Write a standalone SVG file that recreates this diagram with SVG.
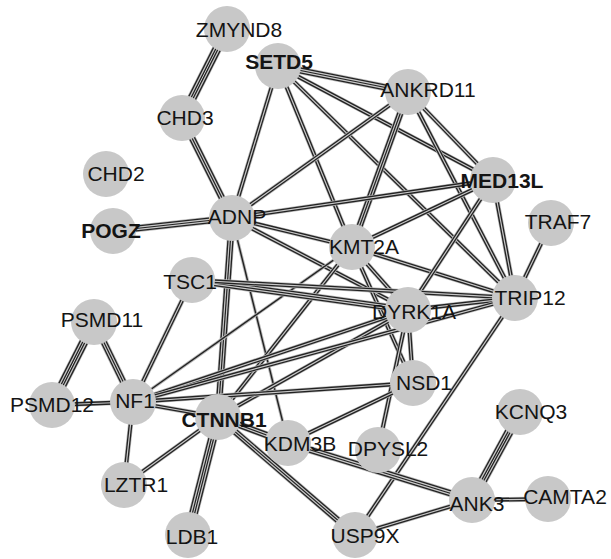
<svg xmlns="http://www.w3.org/2000/svg" xmlns:xlink="http://www.w3.org/1999/xlink" width="611" height="559" viewBox="0 0 611 559">
<style>
.bg{fill:#ffffff}
#edges use{fill:none;stroke-linecap:butt}
.s1 use:nth-child(1){stroke:#b8b8b8;stroke-width:3.2}
.s1 use:nth-child(2){stroke:#222;stroke-width:1.4}
.s2 use:nth-child(1){stroke:#b8b8b8;stroke-width:5.2}
.s2 use:nth-child(2){stroke:#222;stroke-width:3.8}
.s2 use:nth-child(3){stroke:#c8c8c8;stroke-width:1.2}
.s3 use:nth-child(1){stroke:#b8b8b8;stroke-width:7.6}
.s3 use:nth-child(2){stroke:#222;stroke-width:6.2}
.s3 use:nth-child(3){stroke:#c8c8c8;stroke-width:3.6}
.s3 use:nth-child(4){stroke:#222;stroke-width:1.2}
.s4 use:nth-child(1){stroke:#b8b8b8;stroke-width:10}
.s4 use:nth-child(2){stroke:#222;stroke-width:8.6}
.s4 use:nth-child(3){stroke:#c8c8c8;stroke-width:6}
.s4 use:nth-child(4){stroke:#222;stroke-width:3.4}
.s4 use:nth-child(5){stroke:#c8c8c8;stroke-width:1}
.node circle{fill:#c8c8c8}
.node text{font-family:"Liberation Sans",Arial,sans-serif;font-size:21px;fill:#141414;text-anchor:middle}
.node text.b{font-weight:bold}
</style>
<defs>
<line id="e1" x1="227" y1="29" x2="182" y2="118"/>
<line id="e2" x1="182" y1="118" x2="232" y2="218"/>
<line id="e3" x1="278" y1="66" x2="232" y2="218"/>
<line id="e4" x1="278" y1="66" x2="408" y2="92"/>
<line id="e5" x1="278" y1="66" x2="352" y2="247"/>
<line id="e6" x1="278" y1="66" x2="493" y2="180"/>
<line id="e7" x1="278" y1="66" x2="515" y2="298"/>
<line id="e8" x1="408" y1="92" x2="232" y2="218"/>
<line id="e9" x1="408" y1="92" x2="352" y2="247"/>
<line id="e10" x1="408" y1="92" x2="493" y2="180"/>
<line id="e11" x1="408" y1="92" x2="515" y2="298"/>
<line id="e12" x1="232" y1="218" x2="113" y2="231"/>
<line id="e13" x1="232" y1="218" x2="493" y2="180"/>
<line id="e14" x1="232" y1="218" x2="352" y2="247"/>
<line id="e15" x1="232" y1="218" x2="408" y2="310"/>
<line id="e16" x1="232" y1="218" x2="218" y2="417"/>
<line id="e17" x1="232" y1="218" x2="288" y2="443"/>
<line id="e18" x1="352" y1="247" x2="493" y2="180"/>
<line id="e19" x1="352" y1="247" x2="515" y2="298"/>
<line id="e20" x1="352" y1="247" x2="408" y2="310"/>
<line id="e21" x1="352" y1="247" x2="413" y2="383"/>
<line id="e22" x1="352" y1="247" x2="133" y2="402"/>
<line id="e23" x1="352" y1="247" x2="218" y2="417"/>
<line id="e24" x1="493" y1="180" x2="408" y2="310"/>
<line id="e25" x1="493" y1="180" x2="515" y2="298"/>
<line id="e26" x1="551" y1="223" x2="515" y2="298"/>
<line id="e27" x1="192" y1="280" x2="408" y2="310"/>
<line id="e28" x1="192" y1="280" x2="515" y2="298"/>
<line id="e29" x1="192" y1="280" x2="133" y2="402"/>
<line id="e30" x1="408" y1="310" x2="515" y2="298"/>
<line id="e31" x1="408" y1="310" x2="413" y2="383"/>
<line id="e32" x1="408" y1="310" x2="133" y2="402"/>
<line id="e33" x1="408" y1="310" x2="218" y2="417"/>
<line id="e34" x1="408" y1="310" x2="378" y2="450"/>
<line id="e35" x1="515" y1="298" x2="355" y2="535"/>
<line id="e36" x1="515" y1="298" x2="133" y2="402"/>
<line id="e37" x1="413" y1="383" x2="133" y2="402"/>
<line id="e38" x1="413" y1="383" x2="288" y2="443"/>
<line id="e39" x1="94" y1="322" x2="52" y2="405"/>
<line id="e40" x1="94" y1="322" x2="133" y2="402"/>
<line id="e41" x1="52" y1="405" x2="133" y2="402"/>
<line id="e42" x1="133" y1="402" x2="218" y2="417"/>
<line id="e43" x1="133" y1="402" x2="124" y2="485"/>
<line id="e44" x1="124" y1="485" x2="218" y2="417"/>
<line id="e45" x1="218" y1="417" x2="188" y2="535"/>
<line id="e46" x1="218" y1="417" x2="288" y2="443"/>
<line id="e47" x1="218" y1="417" x2="355" y2="535"/>
<line id="e48" x1="288" y1="443" x2="472" y2="500"/>
<line id="e49" x1="472" y1="500" x2="355" y2="535"/>
<line id="e50" x1="472" y1="500" x2="520" y2="412"/>
<line id="e51" x1="472" y1="500" x2="548" y2="499"/>
</defs>
<rect class="bg" x="0" y="0" width="611" height="559"/>
<g id="edges">
<g class="s4"><use href="#e1"/><use href="#e1"/><use href="#e1"/><use href="#e1"/><use href="#e1"/></g>
<g class="s3"><use href="#e2"/><use href="#e2"/><use href="#e2"/><use href="#e2"/></g>
<g class="s2"><use href="#e3"/><use href="#e3"/><use href="#e3"/></g>
<g class="s3"><use href="#e4"/><use href="#e4"/><use href="#e4"/><use href="#e4"/></g>
<g class="s2"><use href="#e5"/><use href="#e5"/><use href="#e5"/></g>
<g class="s2"><use href="#e6"/><use href="#e6"/><use href="#e6"/></g>
<g class="s2"><use href="#e7"/><use href="#e7"/><use href="#e7"/></g>
<g class="s2"><use href="#e8"/><use href="#e8"/><use href="#e8"/></g>
<g class="s3"><use href="#e9"/><use href="#e9"/><use href="#e9"/><use href="#e9"/></g>
<g class="s2"><use href="#e10"/><use href="#e10"/><use href="#e10"/></g>
<g class="s2"><use href="#e11"/><use href="#e11"/><use href="#e11"/></g>
<g class="s3"><use href="#e12"/><use href="#e12"/><use href="#e12"/><use href="#e12"/></g>
<g class="s2"><use href="#e13"/><use href="#e13"/><use href="#e13"/></g>
<g class="s2"><use href="#e14"/><use href="#e14"/><use href="#e14"/></g>
<g class="s2"><use href="#e15"/><use href="#e15"/><use href="#e15"/></g>
<g class="s3"><use href="#e16"/><use href="#e16"/><use href="#e16"/><use href="#e16"/></g>
<g class="s1"><use href="#e17"/><use href="#e17"/></g>
<g class="s2"><use href="#e18"/><use href="#e18"/><use href="#e18"/></g>
<g class="s2"><use href="#e19"/><use href="#e19"/><use href="#e19"/></g>
<g class="s2"><use href="#e20"/><use href="#e20"/><use href="#e20"/></g>
<g class="s2"><use href="#e21"/><use href="#e21"/><use href="#e21"/></g>
<g class="s1"><use href="#e22"/><use href="#e22"/></g>
<g class="s2"><use href="#e23"/><use href="#e23"/><use href="#e23"/></g>
<g class="s2"><use href="#e24"/><use href="#e24"/><use href="#e24"/></g>
<g class="s2"><use href="#e25"/><use href="#e25"/><use href="#e25"/></g>
<g class="s2"><use href="#e26"/><use href="#e26"/><use href="#e26"/></g>
<g class="s3"><use href="#e27"/><use href="#e27"/><use href="#e27"/><use href="#e27"/></g>
<g class="s2"><use href="#e28"/><use href="#e28"/><use href="#e28"/></g>
<g class="s2"><use href="#e29"/><use href="#e29"/><use href="#e29"/></g>
<g class="s2"><use href="#e30"/><use href="#e30"/><use href="#e30"/></g>
<g class="s2"><use href="#e31"/><use href="#e31"/><use href="#e31"/></g>
<g class="s2"><use href="#e32"/><use href="#e32"/><use href="#e32"/></g>
<g class="s2"><use href="#e33"/><use href="#e33"/><use href="#e33"/></g>
<g class="s2"><use href="#e34"/><use href="#e34"/><use href="#e34"/></g>
<g class="s2"><use href="#e35"/><use href="#e35"/><use href="#e35"/></g>
<g class="s2"><use href="#e36"/><use href="#e36"/><use href="#e36"/></g>
<g class="s2"><use href="#e37"/><use href="#e37"/><use href="#e37"/></g>
<g class="s2"><use href="#e38"/><use href="#e38"/><use href="#e38"/></g>
<g class="s4"><use href="#e39"/><use href="#e39"/><use href="#e39"/><use href="#e39"/><use href="#e39"/></g>
<g class="s3"><use href="#e40"/><use href="#e40"/><use href="#e40"/><use href="#e40"/></g>
<g class="s2"><use href="#e41"/><use href="#e41"/><use href="#e41"/></g>
<g class="s2"><use href="#e42"/><use href="#e42"/><use href="#e42"/></g>
<g class="s2"><use href="#e43"/><use href="#e43"/><use href="#e43"/></g>
<g class="s2"><use href="#e44"/><use href="#e44"/><use href="#e44"/></g>
<g class="s4"><use href="#e45"/><use href="#e45"/><use href="#e45"/><use href="#e45"/><use href="#e45"/></g>
<g class="s3"><use href="#e46"/><use href="#e46"/><use href="#e46"/><use href="#e46"/></g>
<g class="s3"><use href="#e47"/><use href="#e47"/><use href="#e47"/><use href="#e47"/></g>
<g class="s3"><use href="#e48"/><use href="#e48"/><use href="#e48"/><use href="#e48"/></g>
<g class="s2"><use href="#e49"/><use href="#e49"/><use href="#e49"/></g>
<g class="s4"><use href="#e50"/><use href="#e50"/><use href="#e50"/><use href="#e50"/><use href="#e50"/></g>
<g class="s2"><use href="#e51"/><use href="#e51"/><use href="#e51"/></g>
</g>
<g id="n-ZMYND8" class="node"><circle cx="227" cy="29" r="23"/><text x="239" y="37">ZMYND8</text></g>
<g id="n-SETD5" class="node"><circle cx="278" cy="66" r="23"/><text class="b" x="279" y="69">SETD5</text></g>
<g id="n-CHD3" class="node"><circle cx="182" cy="118" r="23"/><text x="185" y="125">CHD3</text></g>
<g id="n-ANKRD11" class="node"><circle cx="408" cy="92" r="23"/><text x="428" y="97">ANKRD11</text></g>
<g id="n-CHD2" class="node"><circle cx="106" cy="174" r="23"/><text x="116" y="181">CHD2</text></g>
<g id="n-MED13L" class="node"><circle cx="493" cy="180" r="23"/><text class="b" x="502" y="188">MED13L</text></g>
<g id="n-POGZ" class="node"><circle cx="113" cy="231" r="23"/><text class="b" x="111" y="238">POGZ</text></g>
<g id="n-ADNP" class="node"><circle cx="232" cy="218" r="23"/><text x="237" y="224">ADNP</text></g>
<g id="n-TRAF7" class="node"><circle cx="551" cy="223" r="23"/><text x="558" y="229">TRAF7</text></g>
<g id="n-KMT2A" class="node"><circle cx="352" cy="247" r="23"/><text x="364" y="254">KMT2A</text></g>
<g id="n-TSC1" class="node"><circle cx="192" cy="280" r="23"/><text x="190" y="289">TSC1</text></g>
<g id="n-TRIP12" class="node"><circle cx="515" cy="298" r="23"/><text x="530" y="305">TRIP12</text></g>
<g id="n-DYRK1A" class="node"><circle cx="408" cy="310" r="23"/><text x="414" y="319">DYRK1A</text></g>
<g id="n-PSMD11" class="node"><circle cx="94" cy="322" r="23"/><text x="102" y="327">PSMD11</text></g>
<g id="n-NSD1" class="node"><circle cx="413" cy="383" r="23"/><text x="424" y="390">NSD1</text></g>
<g id="n-PSMD12" class="node"><circle cx="52" cy="405" r="23"/><text x="52" y="412">PSMD12</text></g>
<g id="n-NF1" class="node"><circle cx="133" cy="402" r="23"/><text x="135" y="408">NF1</text></g>
<g id="n-KCNQ3" class="node"><circle cx="520" cy="412" r="23"/><text x="531" y="419">KCNQ3</text></g>
<g id="n-CTNNB1" class="node"><circle cx="218" cy="417" r="23"/><text class="b" x="224" y="427">CTNNB1</text></g>
<g id="n-KDM3B" class="node"><circle cx="288" cy="443" r="23"/><text x="300" y="451">KDM3B</text></g>
<g id="n-DPYSL2" class="node"><circle cx="378" cy="450" r="23"/><text x="388" y="456">DPYSL2</text></g>
<g id="n-LZTR1" class="node"><circle cx="124" cy="485" r="23"/><text x="136" y="492">LZTR1</text></g>
<g id="n-ANK3" class="node"><circle cx="472" cy="500" r="23"/><text x="477" y="511">ANK3</text></g>
<g id="n-CAMTA2" class="node"><circle cx="548" cy="499" r="23"/><text x="565" y="504">CAMTA2</text></g>
<g id="n-LDB1" class="node"><circle cx="188" cy="535" r="23"/><text x="192" y="544">LDB1</text></g>
<g id="n-USP9X" class="node"><circle cx="355" cy="535" r="23"/><text x="365" y="543">USP9X</text></g>
</svg>
